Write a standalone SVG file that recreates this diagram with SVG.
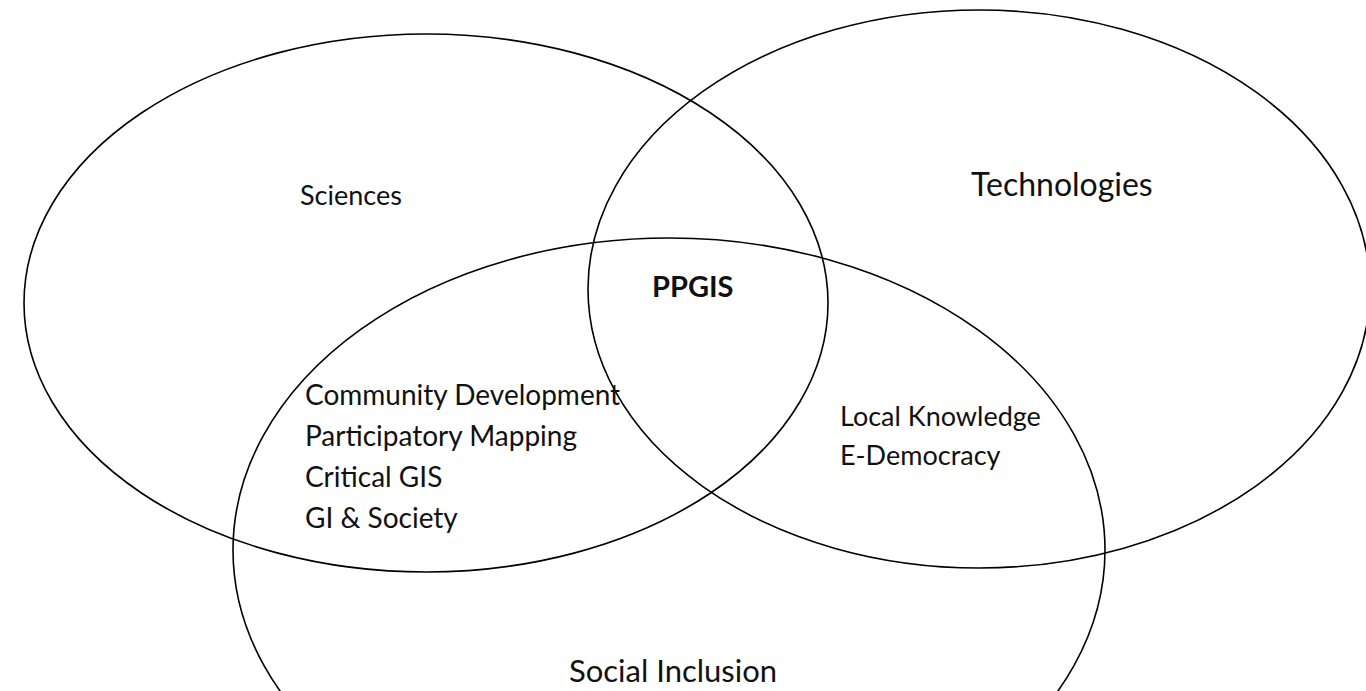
<svg xmlns="http://www.w3.org/2000/svg" width="1366" height="691" viewBox="0 0 1366 691">
<style>
.e{fill:none;stroke:#000;stroke-width:1.6}
.t{font-family:Lato,"Open Sans","Liberation Sans",sans-serif;font-size:28px;fill:#111}
.l{font-size:32px}
.s{font-size:27px}
.b{font-weight:bold;font-size:29px}
</style>
<rect width="1366" height="691" fill="#fff"/>
<g id="sciences"><ellipse class="e" cx="426" cy="303" rx="402" ry="269"/><text class="t s" x="300" y="205">Sciences</text></g>
<g id="technologies"><ellipse class="e" cx="979" cy="289" rx="391" ry="279"/><text class="t l" x="971" y="196">Technologies</text></g>
<g id="social-inclusion"><ellipse class="e" cx="669" cy="550" rx="436" ry="312"/><text class="t" x="569" y="682" style="font-size:31px">Social Inclusion</text></g>
<g id="ppgis"><text class="t b" x="652" y="297">PPGIS</text></g>
<g id="left-list"><text class="t" x="305" y="405">Community Development</text><text class="t" x="305" y="446">Participatory Mapping</text><text class="t" x="305" y="487">Critical GIS</text><text class="t" x="305" y="528">GI &amp; Society</text></g>
<g id="right-list"><text class="t s" x="840" y="426">Local Knowledge</text><text class="t s" x="840" y="465">E-Democracy</text></g>
<g id="connectors"/>
</svg>
